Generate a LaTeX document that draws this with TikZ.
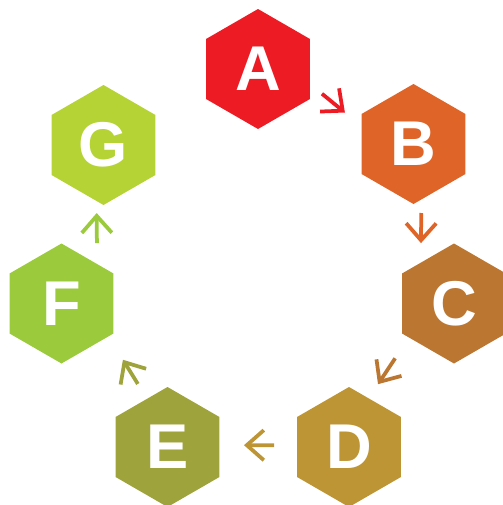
\documentclass[tikz,border=0pt]{standalone}
\usepackage{fontspec}
\setmainfont{Liberation Sans}
\usepackage{tikz}
\usetikzlibrary{arrows.meta,shapes.geometric}
\usepackage{xcolor}

\definecolor{hexA}{HTML}{ED1C24}
\definecolor{hexB}{HTML}{DF6427}
\definecolor{hexC}{HTML}{BB7731}
\definecolor{hexD}{HTML}{BE9535}
\definecolor{hexE}{HTML}{9FA33C}
\definecolor{hexF}{HTML}{9BCB3D}
\definecolor{hexG}{HTML}{B5D334}

\tikzset{
	gap/.style 2 args={shorten <=#1,shorten >=#2}
}

\begin{document}
\begin{tikzpicture}
	\useasboundingbox (0,0) rectangle (10.04,-10.10);
	\begin{scope}[every node/.style={regular polygon,regular polygon sides=6,regular polygon rotate=30,minimum size=2.4cm,inner sep=0pt,outer sep=0pt,text=white,font=\fontsize{36}{40}\selectfont\bfseries}]
		\node[fill=hexA] (A) at (5.16,-1.38) {A};
		\node[fill=hexB] (B) at (8.27,-2.88) {B};
		\node[fill=hexC] (C) at (9.08,-6.07) {C};
		\node[fill=hexD] (D) at (6.98,-8.94) {D};
		\node[fill=hexE] (E) at (3.35,-8.94) {E};
		\node[fill=hexF] (F) at (1.23,-6.07) {F};
		\node[fill=hexG] (G) at (2.07,-2.90) {G};
	\end{scope}
	\begin{scope}[every edge/.style={draw,line width=0.075cm,-{Straight Barb[length=0.34cm,width=0.6cm]}}]
		\draw[hexA,gap={0.31cm}{0.43cm}] (A.-16) edge (B.161.5);
		\draw[hexB,gap={0.27cm}{0.39cm}] (B.-82) edge (C.129);
		\draw[hexC,gap={0.50cm}{0.34cm}] (C.217) edge (D.68);
		\draw[hexD,gap={0.46cm}{0.49cm}] (D.178) edge (E.2);
		\draw[hexE,gap={0.35cm}{0.55cm}] (E.113) edge (F.-35);
		\draw[hexF,gap={0.42cm}{0.24cm}] (F.48) edge (G.-97);
	\end{scope}
\end{tikzpicture}
\end{document}
